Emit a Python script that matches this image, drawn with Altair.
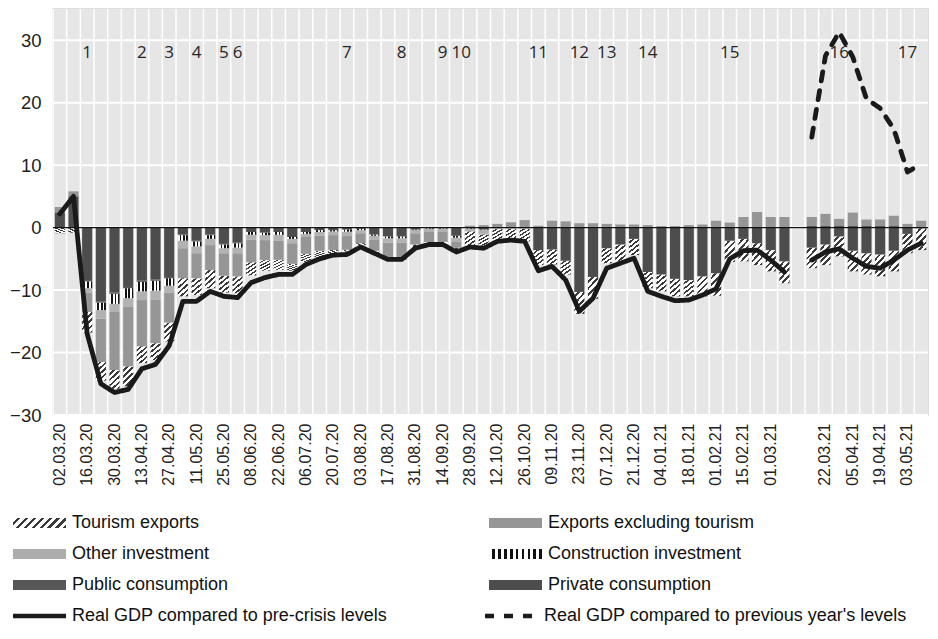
import altair as alt
import pandas as pd

# ---------------- data ----------------
labels = ["02.03.20","09.03.20","16.03.20","23.03.20","30.03.20","06.04.20","13.04.20","20.04.20",
          "27.04.20","04.05.20","11.05.20","18.05.20","25.05.20","01.06.20","08.06.20","15.06.20",
          "22.06.20","29.06.20","06.07.20","13.07.20","20.07.20","27.07.20","03.08.20","10.08.20",
          "17.08.20","24.08.20","31.08.20","07.09.20","14.09.20","21.09.20","28.09.20","05.10.20",
          "12.10.20","19.10.20","26.10.20","02.11.20","09.11.20","16.11.20","23.11.20","30.11.20",
          "07.12.20","14.12.20","21.12.20","28.12.20","04.01.21","11.01.21","18.01.21","25.01.21",
          "01.02.21","08.02.21","15.02.21","22.02.21","01.03.21","08.03.21"," ","15.03.21",
          "22.03.21","29.03.21","05.04.21","12.04.21","19.04.21","26.04.21","03.05.21","10.05.21"]

private = [2.4, 5.0, -8.4, -11.8, -10.4, -9.5, -8.5, -8.3, -7.9, -1.1, -2.1, -1.1, -2.6, -2.4, -0.7, -0.8,
           -0.7, -1.5, -0.7, -0.4, -0.4, -0.3, -0.2, -1.1, -1.4, -1.4, -0.3, -0.1, -0.1, -1.3, -0.1, -0.3,
           0.0, 0.0, 0.0, -3.6, -3.5, -5.3, -10.3, -7.9, -3.3, -2.7, -1.8, -7.1, -7.5, -8.2, -8.4, -7.8,
           -7.3, -2.1, -1.8, -2.5, -3.6, -5.4, 0.0, -3.2, -2.7, -1.4, -3.7, -4.1, -4.3, -3.7, -1.0, -0.1]
public = [0.0, 0.0, -0.2, -0.2, -0.2, -0.2, -0.2, -0.2, -0.2, -0.1, -0.1, -0.1, -0.1, -0.1, 0.0, 0.0,
          0.0, 0.0, 0.0, 0.0, 0.0, 0.0, 0.0, 0.0, 0.0, 0.0, 0.0, 0.0, 0.0, 0.0, 0.0, 0.0,
          0.0, 0.0, 0.0, 0.0, 0.0, 0.0, 0.0, 0.0, 0.0, 0.0, 0.0, 0.0, 0.0, 0.0, 0.0, 0.0,
          0.0, 0.0, 0.0, 0.0, 0.0, 0.0, 0.0, 0.3, 0.3, 0.3, 0.3, 0.3, 0.3, 0.3, 0.0, 0.0]
construction = [0.0, 0.0, -1.1, -1.2, -1.6, -1.6, -1.5, -1.6, -1.2, -0.9, -0.8, -0.6, -0.6, -0.7, -0.45, -0.4,
                -0.45, -0.3, -0.3, -0.3, -0.2, -0.35, -0.2, -0.2, -0.3, -0.3, -0.1, -0.1, -0.1, -0.3, -0.1, -0.1,
                0.0, 0.0, 0.0, 0.0, 0.0, 0.0, 0.0, 0.0, 0.0, 0.0, 0.0, 0.0, 0.0, 0.0, 0.0, 0.0,
                0.0, 0.0, 0.0, 0.0, 0.0, 0.0, 0.0, 0.0, 0.0, 0.0, 0.0, 0.0, 0.0, 0.0, 0.0, 0.0]
other_inv = [0.0, 0.0, -0.7, -1.4, -1.3, -1.4, -1.4, -1.4, -1.1, -1.2, -1.1, -1.0, -0.8, -0.9, -0.8, -0.8,
             -0.9, -0.7, -0.5, -0.6, -0.6, -0.7, -0.5, -0.6, -0.7, -0.7, -0.5, -0.5, -0.5, -0.6, -0.4, -0.7,
             -0.2, -0.2, -0.2, 0.0, 0.0, 0.0, 0.0, 0.0, 0.0, 0.0, 0.0, 0.0, 0.0, 0.0, 0.0, 0.0,
             0.0, 0.0, 0.0, 0.0, 0.0, 0.0, 0.0, 0.0, 0.0, 0.0, 0.0, 0.0, 0.0, 0.0, 0.0, 0.0]
exports_ex = [0.9, 0.8, -3.1, -6.9, -9.3, -9.5, -7.4, -7.0, -4.8, -4.8, -4.0, -4.0, -3.6, -3.7, -3.6, -3.2,
              -3.1, -3.3, -2.7, -2.4, -2.4, -2.2, -1.6, -1.8, -2.3, -2.3, -1.8, -1.6, -1.6, -1.0, 0.3, 0.4,
              0.6, 0.85, 1.2, 0.3, 1.1, 1.0, 0.7, 0.7, 0.6, 0.5, 0.5, 0.4, 0.25, 0.25, 0.4, 0.5,
              1.1, 0.8, 1.7, 2.5, 1.7, 1.7, 0.0, 1.4, 1.9, 1.1, 2.1, 1.0, 1.0, 1.6, 0.6, 1.1]
tourism = [-0.9, -0.8, -3.3, -3.0, -3.0, -3.2, -2.7, -2.7, -3.0, -2.9, -2.7, -2.9, -2.7, -2.7, -2.1, -1.7,
           -1.6, -1.1, -1.3, -1.1, -0.8, -0.3, -0.3, -0.4, -0.3, -0.4, -0.5, -0.3, -0.3, -0.5, -2.3, -1.8,
           -1.9, -2.0, -2.0, -2.4, -2.4, -2.2, -3.5, -3.5, -2.4, -2.7, -2.6, -2.6, -2.7, -2.8, -2.6, -3.2,
           -3.6, -3.4, -3.6, -3.5, -3.4, -3.5, 0.0, -3.3, -3.3, -3.2, -3.3, -3.4, -3.5, -3.3, -3.1, -3.5]

gdp_pre = [2.2, 5.0, -17.0, -25.0, -26.4, -25.9, -22.6, -21.9, -18.9, -11.8, -11.8, -10.2, -11.0, -11.2, -8.8, -8.0,
           -7.5, -7.5, -5.9, -5.0, -4.4, -4.3, -3.1, -4.1, -5.1, -5.1, -3.3, -2.7, -2.7, -3.9, -3.1, -3.3,
           -2.2, -2.0, -2.2, -6.9, -6.2, -8.4, -13.4, -11.3, -6.5, -5.7, -4.9, -10.2, -11.0, -11.7, -11.6, -10.8,
           -9.8, -5.0, -3.7, -3.6, -5.2, -7.1, None, -5.2, -3.9, -3.4, -4.9, -6.2, -6.5, -5.2, -3.6, -2.5]
gdp_prev = [None] * 55 + [14.5, 27.5, 31.3, 27.3, 20.6, 19.1, 15.8, 8.9, 10.2]

note_text = ["1", "2", "3", "4", "5", "6", "7", "8", "9", "10", "11", "12", "13", "14", "15", "16", "17"]
note_at = ["16.03.20", "13.04.20", "27.04.20", "11.05.20", "25.05.20", "01.06.20", "27.07.20", "24.08.20",
           "14.09.20", "21.09.20", "02.11.20", "23.11.20", "07.12.20", "28.12.20", "08.02.21", "29.03.21",
           "03.05.21"]

comps = ["Tourism exports", "Exports excluding tourism", "Other investment",
         "Construction investment", "Public consumption", "Private consumption"]
comp_vals = [tourism, exports_ex, other_inv, construction, public, private]
stack_rank = [5, 4, 3, 2, 1, 0]
# legend is filled column by column: left column first, then right column
legend_order = ["Tourism exports", "Other investment", "Public consumption",
                "Exports excluding tourism", "Construction investment", "Private consumption"]

pre_name = "Real GDP compared to pre-crisis levels"
prev_name = "Real GDP compared to previous year's levels"

y_ticks = [-30, -20, -10, 0, 10, 20, 30]
y_range = [-30, 35]

# ---------------- tables ----------------
rows = []
for name, vals, rk in zip(comps, comp_vals, stack_rank):
    for lab, v in zip(labels, vals):
        rows.append({"label": lab, "comp": name, "value": v, "rank": rk})
bar_df = pd.DataFrame(rows)

lrows = []
for i, (lab, v) in enumerate(zip(labels, gdp_pre)):
    if v is not None:
        lrows.append({"label": lab, "value": v, "series": pre_name, "seg": "a" if i < 54 else "b"})
for lab, v in zip(labels, gdp_prev):
    if v is not None:
        lrows.append({"label": lab, "value": v, "series": prev_name, "seg": "c"})
line_df = pd.DataFrame(lrows)

note_df = pd.DataFrame({"label": note_at, "txt": note_text})
zero_df = pd.DataFrame({"z": [0]})
hgrid_df = pd.DataFrame({"g": y_ticks})
vgrid_df = pd.DataFrame({"label": labels})
bg_df = pd.DataFrame({"lo": [y_range[0]], "hi": [y_range[1]]})
entry_df = pd.DataFrame({"entry": comps})

# ---------------- styles ----------------
FONT = "Liberation Sans"


def stripes(x2, y2, n, dark, light, frac_dark):
    stops = []
    for k in range(n):
        a = k / n
        b = a + (1 - frac_dark) / n
        c = (k + 1) / n
        stops += [(a, light), (b, light), (b, dark), (c, dark)]
    s = ",".join("{offset:%.4f,color:'%s'}" % (o, col) for o, col in stops)
    return alt.ExprRef(expr="{gradient:'linear',x1:0,y1:0,x2:%g,y2:%g,stops:[%s]}" % (x2, y2, s))


bar_range = [stripes(0.6, 1.2, 5, "#3a3a3a", "#ffffff", 0.42), "#969696", "#b2b2b2",
             stripes(1, 0, 3, "#111111", "#ffffff", 0.5), "#575757", "#4d4d4d"]
leg_style = {
    "Tourism exports": stripes(1.148, 0.2166, 8, "#3a3a3a", "#ffffff", 0.42),
    "Exports excluding tourism": "#969696",
    "Other investment": "#adadad",
    "Construction investment": stripes(1, 0, 9, "#111111", "#ffffff", 0.45),
    "Public consumption": "#575757",
    "Private consumption": "#4d4d4d",
}
leg_range = [leg_style[c] for c in legend_order]

y_scale = alt.Scale(domain=y_range, nice=False, zero=False)
x_scale = alt.Scale(paddingInner=0.26, paddingOuter=0.13)
tick_vals = [labels[i] for i in range(0, len(labels), 2) if labels[i].strip()]

x_enc = alt.X("label:N", sort=labels, scale=x_scale,
              axis=alt.Axis(title=None, values=tick_vals, labelAngle=270, labelFontSize=16,
                            labelFont=FONT, labelColor="#222222", labelPadding=8, ticks=False,
                            domain=False, grid=False, labelOverlap=False))
y_enc = alt.Y("value:Q", scale=y_scale, stack="zero",
              axis=alt.Axis(title=None, values=y_ticks, labelFontSize=18.5,
                            labelFont=FONT, labelColor="#222222", labelPadding=12, ticks=False,
                            domain=False, grid=False))

# plot background and white grid drawn as marks
background = alt.Chart(bg_df).mark_rect(color="#e6e6e6").encode(
    y=alt.Y("hi:Q", scale=y_scale), y2="lo:Q")
hgrid = alt.Chart(hgrid_df).mark_rule(color="#ffffff", strokeWidth=2).encode(
    y=alt.Y("g:Q", scale=y_scale))
vgrid = alt.Chart(vgrid_df).mark_rule(color="#ffffff", strokeWidth=1.5, xOffset=-1.78).encode(
    x=alt.X("label:N", sort=labels, scale=x_scale, bandPosition=0))

bars = alt.Chart(bar_df).mark_bar().encode(
    x=x_enc,
    y=y_enc,
    fill=alt.Fill("rank:N", scale=alt.Scale(domain=stack_rank, range=bar_range), legend=None),
    order=alt.Order("rank:Q"),
)

legend_bars = alt.Chart(entry_df).transform_filter("false").mark_bar().encode(
    color=alt.Color("entry:N", scale=alt.Scale(domain=legend_order, range=leg_range),
                    legend=alt.Legend(title=None, orient="none", legendX=-44, legendY=505,
                                      columns=2, columnPadding=256, rowPadding=13, padding=0,
                                      symbolType="M-1,-1H9.6V1H-1Z", symbolSize=100,
                                      symbolStrokeWidth=0, symbolOpacity=1, labelOffset=45,
                                      labelFont=FONT, labelFontSize=18, labelColor="#111111",
                                      labelLimit=400)),
)

zero = alt.Chart(zero_df).mark_rule(color="#111111", strokeWidth=1.4).encode(y=alt.Y("z:Q", scale=y_scale))

lines = alt.Chart(line_df).mark_line(color="#1a1a1a", strokeWidth=4.8, strokeCap="round",
                                     strokeJoin="round").encode(
    x=alt.X("label:N", sort=labels, scale=x_scale),
    y=alt.Y("value:Q", scale=y_scale),
    detail="seg:N",
    strokeDash=alt.StrokeDash("series:N",
                              scale=alt.Scale(domain=[pre_name, prev_name], range=[[1, 0], [9, 10]]),
                              legend=alt.Legend(title=None, orient="none", legendX=-44, legendY=598,
                                                columns=2, columnPadding=88, padding=0,
                                                symbolType="M-1,0H9.6", symbolSize=100,
                                                symbolStrokeWidth=4.5, symbolStrokeColor="#1a1a1a",
                                                labelOffset=45, labelFont=FONT, labelFontSize=18,
                                                labelColor="#111111", labelLimit=500)),
)

notes_main = alt.Chart(note_df).transform_filter("datum.txt != '10'").mark_text(
    font="Open Sans", fontSize=17, color="#262626", baseline="middle").encode(
    x=alt.X("label:N", sort=labels, scale=x_scale),
    y=alt.datum(28.0),
    text="txt:N",
)
notes_ten = alt.Chart(note_df).transform_filter("datum.txt == '10'").mark_text(
    font="Open Sans", fontSize=17, color="#262626", baseline="middle", dx=5).encode(
    x=alt.X("label:N", sort=labels, scale=x_scale),
    y=alt.datum(28.0),
    text="txt:N",
)

chart = alt.layer(background, hgrid, vgrid, bars, legend_bars, zero, lines, notes_main,
                  notes_ten).properties(
    width=875, height=406, padding={"left": 1, "top": 0, "right": 0, "bottom": 0}
).configure_view(stroke="#d4d4d4", strokeWidth=1.5)

chart.save("out.html", embed_options={"renderer": "svg", "actions": False})
